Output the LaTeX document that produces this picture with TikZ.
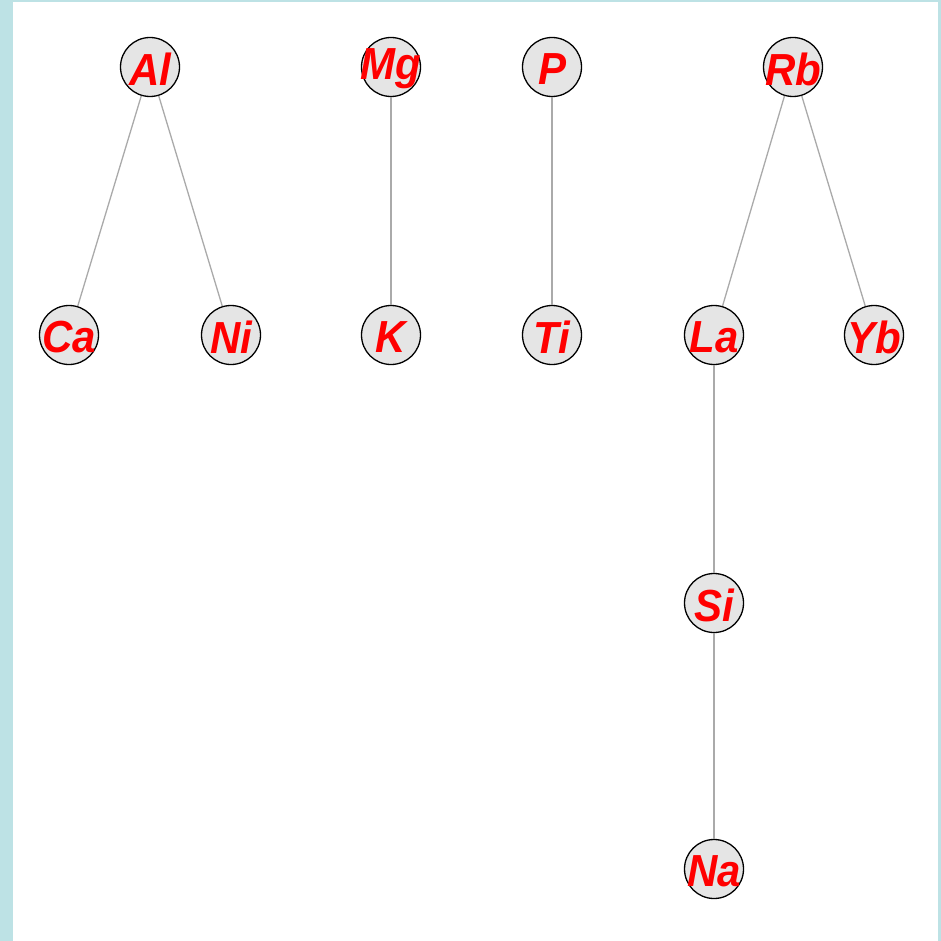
\documentclass[tikz,border=0pt]{standalone}
\usepackage{fontspec}
\usepackage{graphicx}
\setmainfont{Liberation Sans}
\definecolor{frameblue}{HTML}{BDE2E5}
\definecolor{nodefill}{HTML}{E5E5E5}
\definecolor{edgegray}{HTML}{AAAAAA}
\newcommand{\elabel}[1]{\makebox[0pt]{\raisebox{-2pt}[\height][\depth]{\scalebox{1}[1.07]{#1}}}}
\tikzset{
  elem/.style={circle, draw=black, line width=1.3pt, fill=nodefill, minimum size=59pt, inner sep=0pt,
    font=\fontsize{42}{42}\selectfont\bfseries\itshape, text=red},
  link/.style={draw=edgegray, line width=1.3pt}
}
\begin{document}
\begin{tikzpicture}[x=1pt,y=-1pt]
\fill[frameblue] (0,0) rectangle (941,941);
\fill[white] (13,2) rectangle (938,941);
\useasboundingbox (0,0) rectangle (941,941);
\node[elem] (Al) at (150,67) {\elabel{Al}};
\node[elem] (Mg) at (391,67) {\elabel{Mg}};
\node[elem] (P) at (552,67) {\elabel{P}};
\node[elem] (Rb) at (793,67) {\elabel{Rb}};
\node[elem] (Ca) at (69,335) {\elabel{Ca}};
\node[elem] (Ni) at (231,335) {\elabel{Ni}};
\node[elem] (K) at (391,335) {\elabel{K}};
\node[elem] (Ti) at (552,335) {\elabel{Ti}};
\node[elem] (La) at (714,335) {\elabel{La}};
\node[elem] (Yb) at (874,335) {\elabel{Yb}};
\node[elem] (Si) at (714,603) {\elabel{Si}};
\node[elem] (Na) at (714,869) {\elabel{Na}};
\path[link] (Al) -- (Ca);
\path[link] (Al) -- (Ni);
\path[link] (Mg) -- (K);
\path[link] (P) -- (Ti);
\path[link] (Rb) -- (La);
\path[link] (Rb) -- (Yb);
\path[link] (La) -- (Si);
\path[link] (Si) -- (Na);
\end{tikzpicture}
\end{document}
